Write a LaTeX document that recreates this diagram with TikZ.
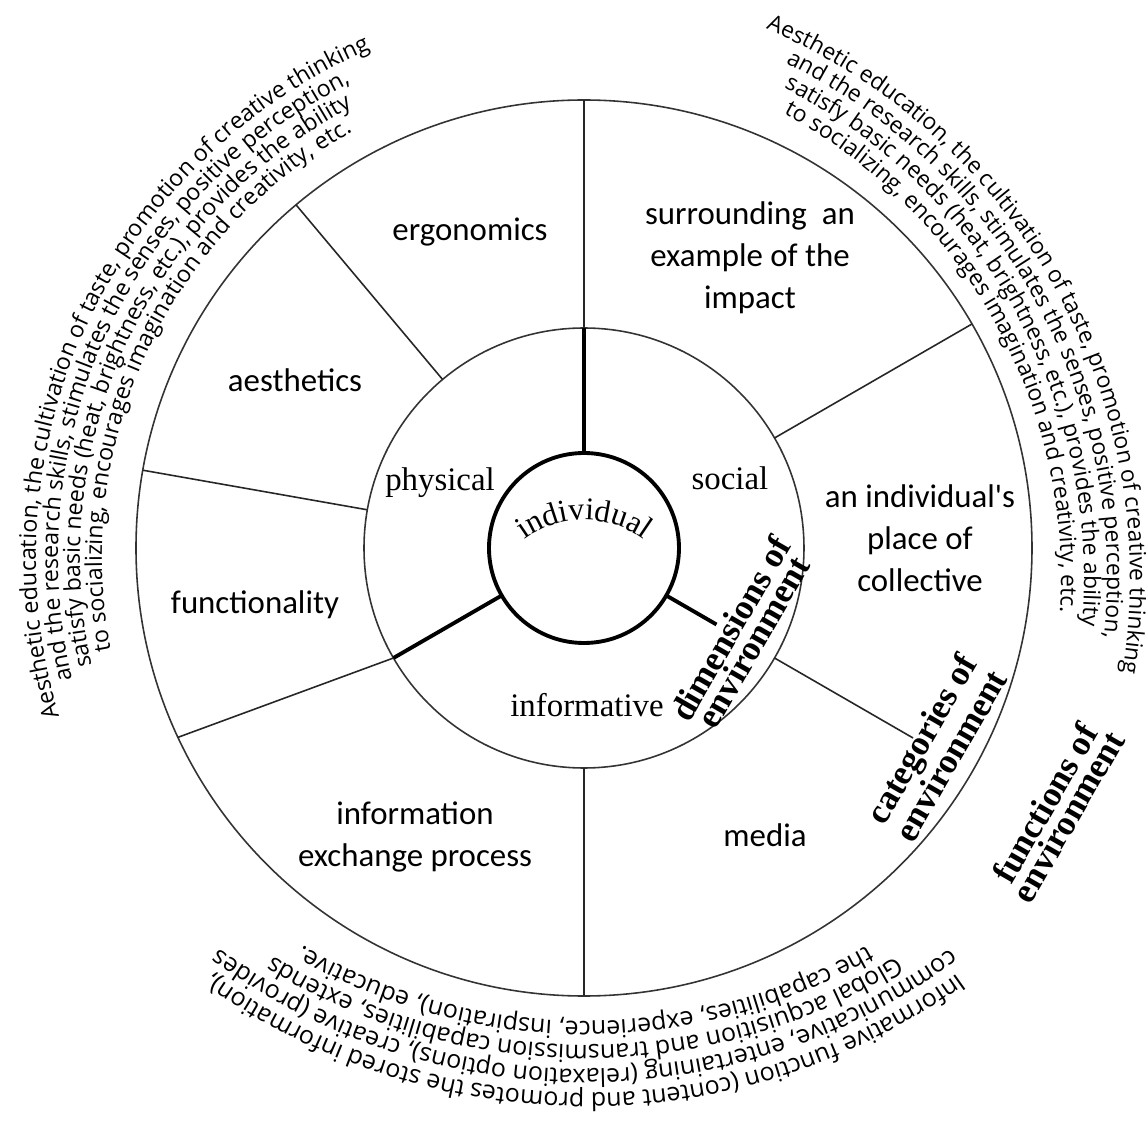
\documentclass[tikz,border=0pt]{standalone}
\usepackage{fontspec}
\setmainfont{Liberation Serif}
\newfontfamily\labelfont{Carlito}
\newfontfamily\notefont{Open Sans}
\usetikzlibrary{decorations.text}
\newcommand\leftnote{\notefont\fontsize{13.2}{16}\selectfont}
\newcommand\rightnote{\notefont\fontsize{13}{16}\selectfont}
\newcommand\basenote{\notefont\fontsize{14.2}{16}\selectfont}
\newcommand\corefont{\fontsize{18}{20}\selectfont}

\begin{document}
\begin{tikzpicture}[x=0.02cm, y=0.02cm,
    sector/.style={font=\labelfont\fontsize{18.7}{24}\selectfont, align=center},
    dimension/.style={font=\fontsize{18.7}{22}\selectfont},
    heading/.style={font=\bfseries\fontsize{20}{14}\selectfont, align=center,
                    rotate=60, inner sep=0pt},
    ring/.style={line width=0.9pt, black!80},
    spoke/.style={line width=0.9pt, black!85},
    axis/.style={line width=2.2pt},
    curved/.style={decorate, decoration={text along path, text align=center, text={#1}}}
  ]
    \useasboundingbox (-584,-574) rectangle (562,548);

    \draw[ring] (0,0) circle[radius=448];
    \draw[ring] (0,0) circle[radius=220];
    \draw[axis] (0,0) circle[radius=95];

    \foreach \a in {30,90,130,170,270}
      \draw[spoke] (\a:220) -- (\a:448);
    \draw[spoke] (210:220) -- (205:448);
    \draw[spoke] (-30:220) -- (-30:380);
    \foreach \a in {90,210}
      \draw[axis] (\a:95) -- (\a:220);
    \draw[axis] (-30:95) -- (-30:153);

    \node[sector] (ergo) at (-114,316) {ergonomics};
    \node[sector] (impact) at (166,290) {surrounding\ \ an\\example of the\\impact};
    \node[sector] (aest) at (-289,168) {aesthetics};
    \node[sector] (place) at (336,10) {an individual's\\place of\\collective};
    \node[sector] (func) at (-329,-57) {functionality};
    \node[sector] (exch) at (-169,-289) {information\\exchange process};
    \node[sector] (media) at (181,-287) {media};

    \node[dimension] (phys) at (-144,65) {physical};
    \node[dimension] (soc) at (146,70) {social};
    \node[dimension] (info) at (3,-157) {informative};

    \node[heading] (dims) at (-29:180) {dimensions of\\environment};
    \node[heading] (cats) at (-29.5:404) {categories of\\environment};
    \node[heading] (funcs) at (-29:540) {functions of\\environment};

    \path[curved={|\corefont|individual}]
      ([shift={(0,-72)}]160:100) arc[start angle=160, end angle=20, radius=100];

    % left band
    \path[curved={|\leftnote|Aesthetic education, the cultivation of taste, promotion of creative thinking}]
      ([shift={(6,-10)}]235:554) arc[start angle=235, end angle=75, radius=554];
    \path[curved={|\leftnote|and the research skills, stimulates the senses, positive perception,}]
      ([shift={(6,-10)}]235:532) arc[start angle=235, end angle=75, radius=532];
    \path[curved={|\leftnote|satisfy basic needs (heat, brightness, etc.), provides the ability}]
      ([shift={(6,-10)}]235:510) arc[start angle=235, end angle=75, radius=510];
    \path[curved={|\leftnote|to socializing, encourages imagination and creativity, etc.}]
      ([shift={(6,-10)}]235:488) arc[start angle=235, end angle=75, radius=488];

    % right band
    \path[curved={|\rightnote|Aesthetic education, the cultivation of taste, promotion of creative thinking}]
      ([shift={(-50,-30)}]109:596) arc[start angle=109, end angle=-51, radius=596];
    \path[curved={|\rightnote|and the research skills, stimulates the senses, positive perception,}]
      ([shift={(-50,-30)}]109:573) arc[start angle=109, end angle=-51, radius=573];
    \path[curved={|\rightnote|satisfy basic needs (heat, brightness, etc.), provides the ability}]
      ([shift={(-50,-30)}]109:550) arc[start angle=109, end angle=-51, radius=550];
    \path[curved={|\rightnote|to socializing, encourages imagination and creativity, etc.}]
      ([shift={(-50,-30)}]109:527) arc[start angle=109, end angle=-51, radius=527];

    % bottom band
    \path[curved={|\basenote|Informative function (content and promotes the stored information),}]
      ([shift={(1,94)}]-10:639) arc[start angle=-10, end angle=-170, radius=639];
    \path[curved={|\basenote|communicative, entertaining (relaxation options), creative (provides}]
      ([shift={(1,94)}]-10:615) arc[start angle=-10, end angle=-170, radius=615];
    \path[curved={|\basenote|Global acquisition and transmission capabilities, extends}]
      ([shift={(1,94)}]-10:591) arc[start angle=-10, end angle=-170, radius=591];
    \path[curved={|\basenote|the capabilities, experience, inspiration), educative.}]
      ([shift={(1,94)}]-10:567) arc[start angle=-10, end angle=-170, radius=567];
\end{tikzpicture}
\end{document}
